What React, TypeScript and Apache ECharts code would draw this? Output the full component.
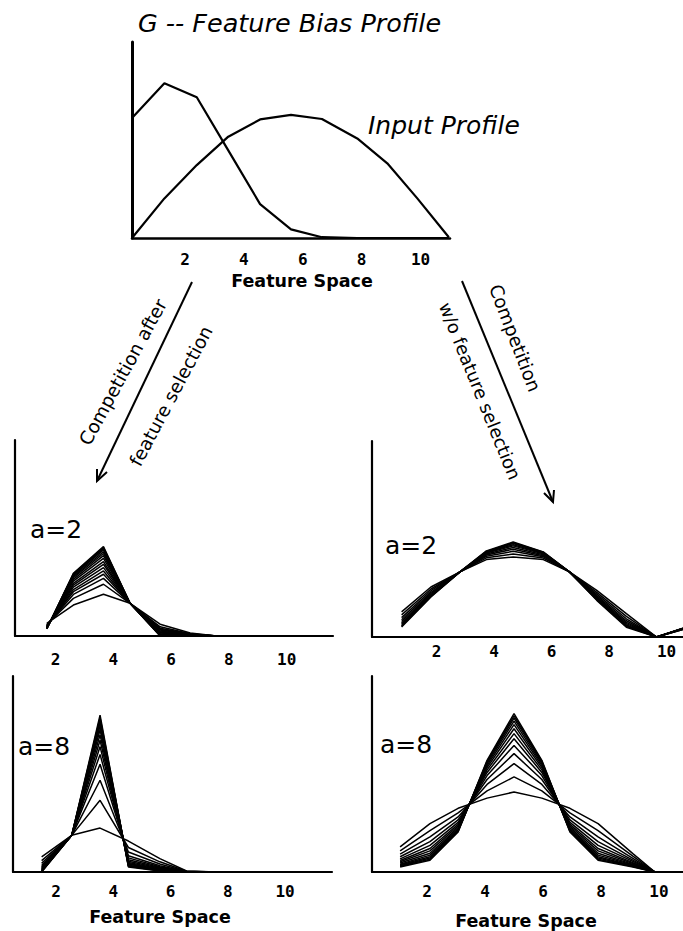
import React, { useEffect, useRef } from 'react';
import * as echarts from 'echarts';

// ---------- data ----------
const tickValues = [2, 4, 6, 8, 10];

// Top panel: G - feature bias profile and input profile
const topX = [0.2, 1.3, 2.4, 3.47, 4.55, 5.6, 6.65, 7.85, 8.87, 9.89, 10.96];
const biasProfile = [0.612, 0.789, 0.718, 0.447, 0.173, 0.044, 0.004, 0, 0, 0, 0];
const inputProfile = [0, 0.202, 0.372, 0.517, 0.605, 0.628, 0.607, 0.508, 0.381, 0.202, 0.004];

// Bottom-left, a=2 (competition after feature selection)
const leftA2X = [1.7, 2.62, 3.66, 4.58, 5.62, 6.66, 7.58];
const leftA2Curves = [
  [0.065, 0.158, 0.213, 0.167, 0.06, 0.015, 0],
  [0.059, 0.192, 0.264, 0.167, 0.047, 0.012, 0],
  [0.055, 0.212, 0.294, 0.167, 0.04, 0.01, 0],
  [0.053, 0.226, 0.315, 0.167, 0.035, 0.009, 0],
  [0.051, 0.237, 0.332, 0.167, 0.031, 0.008, 0],
  [0.049, 0.249, 0.349, 0.167, 0.026, 0.007, 0],
  [0.047, 0.26, 0.366, 0.167, 0.022, 0.006, 0],
  [0.045, 0.269, 0.379, 0.167, 0.019, 0.005, 0],
  [0.043, 0.28, 0.396, 0.167, 0.015, 0.004, 0],
  [0.041, 0.289, 0.41, 0.167, 0.011, 0.003, 0],
  [0.04, 0.297, 0.421, 0.167, 0.009, 0.002, 0],
  [0.039, 0.303, 0.43, 0.167, 0.006, 0.002, 0],
  [0.038, 0.309, 0.439, 0.167, 0.004, 0.001, 0],
  [0.037, 0.313, 0.446, 0.167, 0.002, 0.001, 0],
  [0.037, 0.317, 0.451, 0.167, 0.001, 0, 0],
  [0.036, 0.32, 0.456, 0.167, 0, 0, 0],
];

// Bottom-right, a=2 (competition w/o feature selection)
const rightA2X = [0.78, 1.8, 2.81, 3.73, 4.66, 5.71, 6.62, 7.57, 8.6, 9.65, 10.57];
const rightA2Curves = [
  [0.128, 0.255, 0.332, 0.395, 0.408, 0.395, 0.332, 0.238, 0.119, 0, 0.038],
  [0.113, 0.245, 0.332, 0.404, 0.423, 0.403, 0.332, 0.228, 0.105, 0, 0.039],
  [0.099, 0.236, 0.332, 0.412, 0.437, 0.41, 0.332, 0.219, 0.093, 0, 0.041],
  [0.088, 0.228, 0.332, 0.418, 0.448, 0.415, 0.332, 0.211, 0.083, 0, 0.042],
  [0.079, 0.222, 0.332, 0.423, 0.457, 0.42, 0.332, 0.205, 0.075, 0, 0.042],
  [0.071, 0.217, 0.332, 0.428, 0.465, 0.424, 0.332, 0.2, 0.068, 0, 0.043],
  [0.065, 0.213, 0.332, 0.431, 0.471, 0.427, 0.332, 0.196, 0.062, 0, 0.044],
  [0.059, 0.21, 0.332, 0.434, 0.477, 0.43, 0.332, 0.193, 0.058, 0, 0.044],
  [0.055, 0.207, 0.332, 0.437, 0.481, 0.432, 0.332, 0.19, 0.054, 0, 0.045],
  [0.051, 0.204, 0.332, 0.439, 0.485, 0.434, 0.332, 0.187, 0.05, 0, 0.045],
];

// Bottom-left, a=8
const leftA8X = [1.5, 2.55, 3.54, 4.53, 5.63, 6.56, 7.6];
const leftA8Curves = [
  [0.077, 0.187, 0.224, 0.158, 0.068, 0.005, 0],
  [0.058, 0.187, 0.366, 0.125, 0.052, 0.004, 0],
  [0.044, 0.187, 0.468, 0.102, 0.041, 0.003, 0],
  [0.033, 0.187, 0.55, 0.083, 0.032, 0.002, 0],
  [0.027, 0.187, 0.6, 0.072, 0.027, 0.002, 0],
  [0.021, 0.187, 0.64, 0.063, 0.023, 0.001, 0],
  [0.017, 0.187, 0.672, 0.055, 0.019, 0.001, 0],
  [0.013, 0.187, 0.7, 0.049, 0.016, 0.001, 0],
  [0.01, 0.187, 0.725, 0.043, 0.013, 0.001, 0],
  [0.007, 0.187, 0.745, 0.039, 0.011, 0, 0],
  [0.005, 0.187, 0.762, 0.035, 0.009, 0, 0],
  [0.003, 0.187, 0.776, 0.032, 0.008, 0, 0],
  [0.002, 0.187, 0.788, 0.029, 0.006, 0, 0],
  [0, 0.187, 0.8, 0.026, 0.005, 0, 0],
];

// Bottom-right, a=8
const rightA8X = [1.07, 2.1, 3.07, 4.07, 5.0, 5.96, 6.93, 7.9, 9.1, 9.86];
const rightA8Curves = [
  [0.128, 0.247, 0.325, 0.377, 0.408, 0.377, 0.325, 0.247, 0.094, 0],
  [0.108, 0.211, 0.302, 0.414, 0.485, 0.414, 0.302, 0.211, 0.081, 0],
  [0.091, 0.179, 0.281, 0.447, 0.553, 0.447, 0.281, 0.179, 0.069, 0],
  [0.078, 0.155, 0.266, 0.472, 0.604, 0.472, 0.266, 0.155, 0.061, 0],
  [0.067, 0.136, 0.253, 0.492, 0.646, 0.492, 0.253, 0.136, 0.054, 0],
  [0.059, 0.12, 0.243, 0.508, 0.68, 0.508, 0.243, 0.12, 0.048, 0],
  [0.052, 0.108, 0.235, 0.521, 0.706, 0.521, 0.235, 0.108, 0.043, 0],
  [0.046, 0.096, 0.227, 0.533, 0.731, 0.533, 0.227, 0.096, 0.039, 0],
  [0.04, 0.086, 0.221, 0.543, 0.752, 0.543, 0.221, 0.086, 0.036, 0],
  [0.036, 0.078, 0.215, 0.552, 0.77, 0.552, 0.215, 0.078, 0.032, 0],
  [0.032, 0.071, 0.211, 0.559, 0.785, 0.559, 0.211, 0.071, 0.03, 0],
  [0.029, 0.065, 0.207, 0.565, 0.797, 0.565, 0.207, 0.065, 0.028, 0],
  [0.026, 0.06, 0.204, 0.57, 0.808, 0.57, 0.204, 0.06, 0.026, 0],
];

// ---------- layout ----------
const grids = [
  { left: 132, top: 42, width: 318, height: 196 },
  { left: 15, top: 440, width: 318, height: 196 },
  { left: 372, top: 441, width: 311, height: 196 },
  { left: 13, top: 676, width: 319, height: 196 },
  { left: 372, top: 676, width: 311, height: 196 },
];
const xRanges = [
  [0.2, 11],
  [0.6, 11.6],
  [-0.25, 10.57],
  [0.5, 11.64],
  [0.1, 10.83],
];
const labelMargins = [13, 15, 6, 11, 11];

const pair = (xs: number[], ys: number[]) => xs.map((x, i) => [x, ys[i]]);

const SANS = 'DejaVu Sans';
const deg = (d: number) => (d * Math.PI) / 180;

function txt(
  text: string,
  x: number,
  y: number,
  size: number,
  opts: { weight?: string; style?: string; rotation?: number; align?: string } = {}
) {
  const align = opts.align || 'center';
  return {
    type: 'text',
    x,
    y,
    rotation: opts.rotation || 0,
    silent: true,
    style: {
      text,
      fill: '#000',
      fontFamily: SANS,
      fontSize: size,
      fontWeight: opts.weight || 'normal',
      fontStyle: opts.style || 'normal',
      align,
      verticalAlign: 'middle',
      textAlign: align,
      textVerticalAlign: 'middle',
    },
  };
}

export default function App() {
  const ref = useRef<HTMLDivElement>(null);

  useEffect(() => {
    document.body.style.margin = '0';
    const chart = echarts.init(ref.current!, null, { renderer: 'svg' });

    const xAxis = grids.map((_, i) => ({
      type: 'value',
      gridIndex: i,
      min: xRanges[i][0],
      max: xRanges[i][1],
      axisLine: { show: true, onZero: false, lineStyle: { color: '#000', width: i === 0 ? 2.5 : 2.2 } },
      axisTick: { show: false },
      splitLine: { show: false },
      axisLabel: {
        customValues: tickValues,
        margin: labelMargins[i],
        color: '#000',
        fontFamily: 'DejaVu Sans Mono',
        fontWeight: 'bold',
        fontSize: 16,
      },
    }));
    const yAxis = grids.map((_, i) => ({
      type: 'value',
      gridIndex: i,
      min: 0,
      max: 1,
      axisLine: { show: true, onZero: false, lineStyle: { color: '#000', width: i === 0 ? 3 : 2.2 } },
      axisTick: { show: false },
      axisLabel: { show: false },
      splitLine: { show: false },
    }));

    const lineSeries = (g: number, xs: number[], ys: number[], width: number) => ({
      type: 'line',
      xAxisIndex: g,
      yAxisIndex: g,
      data: pair(xs, ys),
      symbol: 'none',
      showSymbol: false,
      silent: true,
      lineStyle: { color: '#000', width },
    });

    const series: any[] = [
      lineSeries(0, topX, biasProfile, 2.2),
      lineSeries(0, topX, inputProfile, 2.2),
      ...leftA2Curves.map((c) => lineSeries(1, leftA2X, c, 1.5)),
      ...rightA2Curves.map((c) => lineSeries(2, rightA2X, c, 1.5)),
      ...leftA8Curves.map((c) => lineSeries(3, leftA8X, c, 1.5)),
      ...rightA8Curves.map((c) => lineSeries(4, rightA8X, c, 1.5)),
    ];

    const graphic: any[] = [
      txt('G -- Feature Bias Profile', 138, 23, 25.5, { style: 'italic', align: 'left' }),
      txt('Input Profile', 368, 125, 25, { style: 'italic', align: 'left' }),
      txt('Feature Space', 302, 281, 17.5, { weight: 'bold' }),
      txt('Feature Space', 160, 917, 17.5, { weight: 'bold' }),
      txt('Feature Space', 526, 921, 17.5, { weight: 'bold' }),
      txt('a=2', 56, 529, 25),
      txt('a=2', 411, 545, 25),
      txt('a=8', 44, 746, 25),
      txt('a=8', 406, 744, 25),
      txt('Competition after', 123, 372, 18.5, { rotation: deg(61.5) }),
      txt('feature selection', 171, 396, 18.5, { rotation: deg(62) }),
      txt('Competition', 515, 338, 18.5, { rotation: deg(-69) }),
      txt('w/o feature selection', 480, 391, 18, { rotation: deg(-68) }),
      {
        type: 'line',
        silent: true,
        shape: { x1: 192, y1: 282, x2: 97, y2: 481 },
        style: { stroke: '#000', lineWidth: 2 },
      },
      {
        type: 'polyline',
        silent: true,
        shape: { points: [[107, 472], [97, 481], [97, 469]] },
        style: { stroke: '#000', lineWidth: 2, fill: 'none' },
      },
      {
        type: 'line',
        silent: true,
        shape: { x1: 462, y1: 281, x2: 553, y2: 502 },
        style: { stroke: '#000', lineWidth: 2 },
      },
      {
        type: 'polyline',
        silent: true,
        shape: { points: [[544, 493], [553, 502], [554, 490]] },
        style: { stroke: '#000', lineWidth: 2, fill: 'none' },
      },
    ];

    chart.setOption({
      animation: false,
      backgroundColor: '#fff',
      grid: grids.map((g) => ({ ...g, containLabel: false })),
      xAxis,
      yAxis,
      series,
      graphic,
    });

    return () => chart.dispose();
  }, []);

  return (
    <div
      ref={ref}
      style={{ position: 'absolute', left: 0, top: 0, width: 683, height: 931, background: '#fff' }}
    />
  );
}
